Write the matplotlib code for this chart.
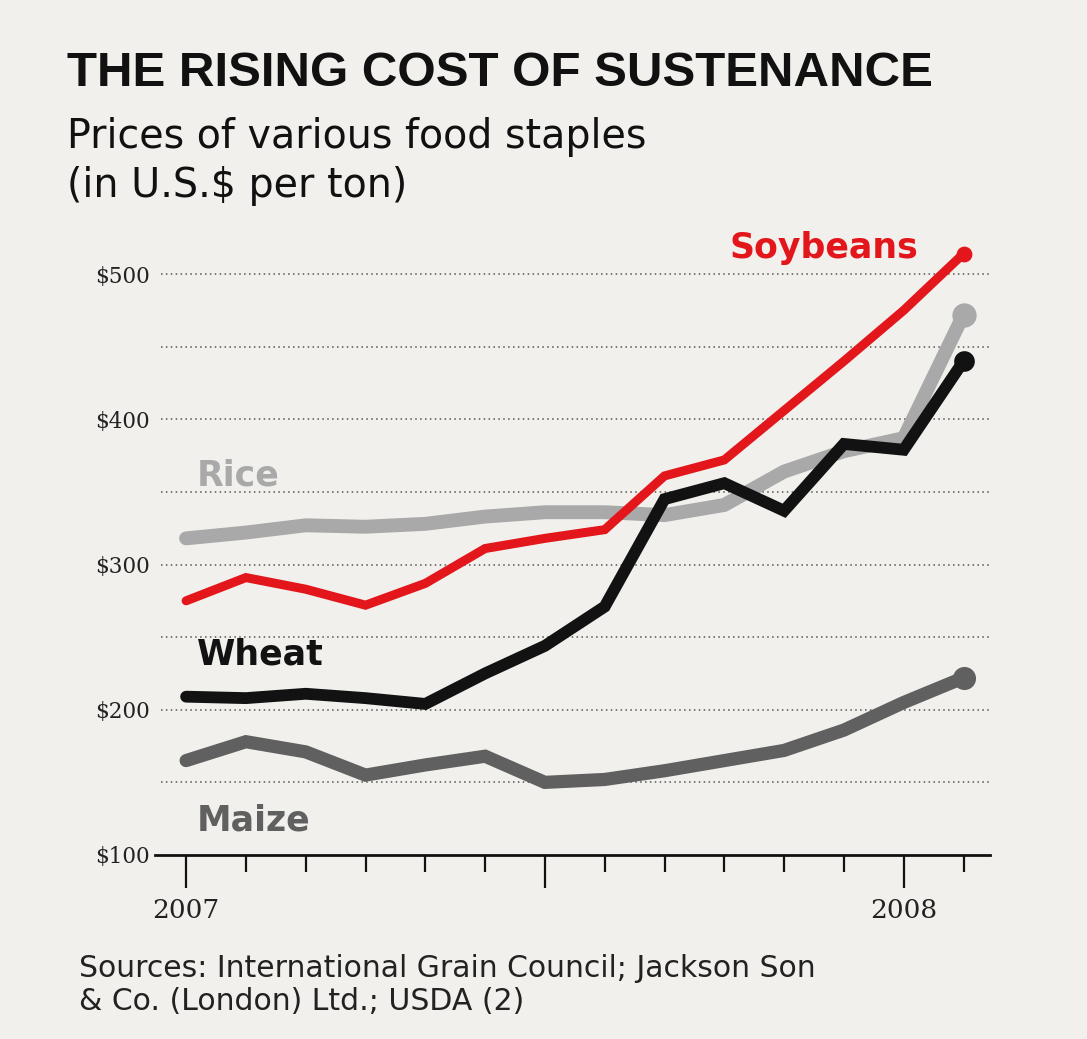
import numpy as np
import matplotlib
matplotlib.use('Agg')
import matplotlib.pyplot as plt

# ── Data (US$ per ton, monthly Jan 2007 - Feb 2008) ──
months = np.arange(14)
soybeans = [275, 291, 283, 272, 287, 311, 318, 324, 361, 372, 406, 440, 475, 514]
rice = [318, 322, 327, 326, 328, 333, 336, 336, 334, 341, 364, 378, 387, 472]
wheat = [209, 208, 211, 208, 204, 225, 244, 271, 345, 356, 337, 383, 379, 440]
maize = [165, 178, 171, 155, 162, 168, 150, 152, 158, 165, 172, 186, 205, 222]

ytick_vals = [100, 200, 300, 400, 500]
ytick_labels = ['$100', '$200', '$300', '$400', '$500']
grid_vals = [150, 200, 250, 300, 350, 400, 450, 500]
year_ticks = [0, 6, 12]
year_labels = ['2007', '', '2008']

BG = '#f1f0ec'
RED = '#e3161b'
RICE_C = '#a9a9a9'
WHEAT_C = '#121212'
MAIZE_C = '#606060'

HEAD = 'Liberation Sans'
LABEL = 'DejaVu Sans'
SERIF = 'DejaVu Serif'

fig = plt.figure(figsize=(10.87, 10.39), dpi=100, facecolor=BG)
ax = fig.add_axes([0.1426, 0.1771, 0.768, 0.6011], facecolor=BG)

ax.set_xlim(-0.52, 13.44)
ax.set_ylim(100, 530)

# dotted gridlines
for g in grid_vals:
    ax.axhline(g, xmin=0.007, xmax=1, color='#555555', lw=1.1,
               ls=(0, (1, 2.2)), zorder=1)

lines = [
    (maize, MAIZE_C, 9.5),
    (rice, RICE_C, 10),
    (wheat, WHEAT_C, 8.5),
    (soybeans, RED, 6.5),
]
for z, (vals, col, lw) in enumerate(lines):
    ax.plot(months, vals, color=col, lw=lw, solid_joinstyle='miter',
            solid_capstyle='round', zorder=3 + z)
    ax.plot(months[-1], vals[-1], 'o', color=col, ms=lw * 1.75,
            mec='none', zorder=3 + z)

# series labels
ax.text(12.25, 518, 'Soybeans', color=RED, fontsize=25, fontweight='bold',
        family=LABEL, ha='right', va='center')
ax.text(0.18, 361, 'Rice', color=RICE_C, fontsize=25, fontweight='bold',
        family=LABEL, ha='left', va='center')
ax.text(0.18, 238, 'Wheat', color=WHEAT_C, fontsize=25, fontweight='bold',
        family=LABEL, ha='left', va='center')
ax.text(0.18, 124, 'Maize', color=MAIZE_C, fontsize=25, fontweight='bold',
        family=LABEL, ha='left', va='center')

# axes styling
for s in ['top', 'right', 'left']:
    ax.spines[s].set_visible(False)
ax.spines['bottom'].set_linewidth(2)
ax.spines['bottom'].set_color('#111111')

ax.set_yticks(ytick_vals)
ax.set_yticklabels(ytick_labels, family=SERIF, fontsize=15.5, color='#222222')
ax.tick_params(axis='y', length=0, pad=4)

ax.set_xticks(year_ticks)
ax.set_xticklabels(year_labels, family=SERIF, fontsize=19, color='#222222')
ax.set_xticks(months, minor=True)
ax.tick_params(axis='x', which='major', direction='out', length=24, width=1.6,
               color='#111111', pad=7)
ax.tick_params(axis='x', which='minor', direction='out', length=12, width=1.6,
               color='#111111')

# titles and source
fig.text(0.062, 0.9297, 'THE RISING COST OF SUSTENANCE', family=HEAD,
         fontweight='bold', fontsize=35.5, color='#111111', ha='left', va='center')
fig.text(0.062, 0.8446, 'Prices of various food staples\n(in U.S.$ per ton)',
         family='DejaVu Sans', fontsize=28.5, color='#111111', ha='left',
         va='center', linespacing=1.32)
fig.text(0.073, 0.052, 'Sources: International Grain Council; Jackson Son\n'
         '& Co. (London) Ltd.; USDA (2)', family='DejaVu Sans', fontsize=21.5,
         color='#222222', ha='left', va='center', linespacing=1.2)

fig.savefig('out.png', dpi=100, facecolor=BG)
